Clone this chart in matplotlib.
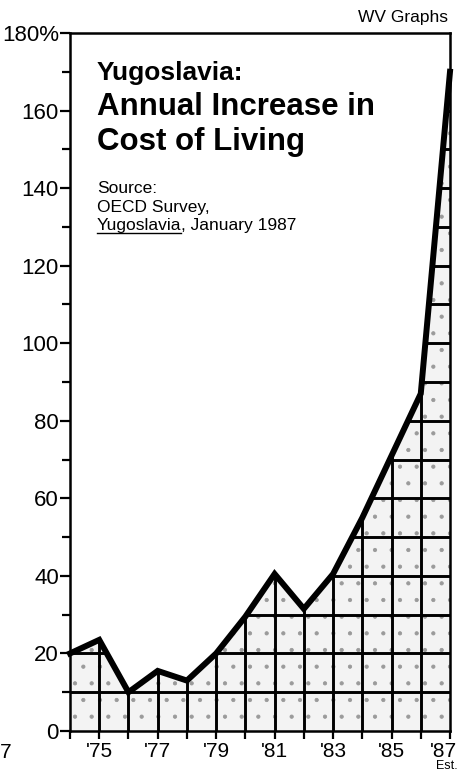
import matplotlib
matplotlib.use('Agg')
import matplotlib.pyplot as plt
import matplotlib.transforms as mtransforms

# values (annual % increase in cost of living)
years = [1974, 1975, 1976, 1977, 1978, 1979, 1980, 1981, 1982, 1983, 1984, 1985, 1986, 1987]
increase = [20, 23.5, 10, 15.5, 13, 20, 29.5, 40.5, 31.5, 40.5, 55, 71, 87, 170]
y_ticks = [0, 20, 40, 60, 80, 100, 120, 140, 160, 180]
y_labels = ['0', '20', '40', '60', '80', '100', '120', '140', '160', '180%']
x_ticks = [1975, 1977, 1979, 1981, 1983, 1985, 1987]
x_labels = ["'75", "'77", "'79", "'81", "'83", "'85", "'87"]

plt.rcParams['font.family'] = ['Liberation Sans', 'DejaVu Sans']
plt.rcParams['hatch.linewidth'] = 0.6

W, H = 460, 774
fig = plt.figure(figsize=(W / 100, H / 100), dpi=100)
ax = fig.add_axes([70 / W, 1 - 731 / H, 380 / W, 698 / H])

ax.set_xlim(1974, 1987)
ax.set_ylim(0, 180)

# stippled area under the curve
poly = ax.fill_between(years, 0, increase, facecolor='#f3f3f3', edgecolor='#9a9a9a',
                       hatch='.', linewidth=0, zorder=1)
clip = poly.get_paths()[0]

# heavy grid only inside the filled area
for yv in range(10, 180, 10):
    ln = ax.axhline(yv, color='black', lw=2.1, zorder=2)
    ln.set_clip_path(clip, ax.transData)
for xv in years[1:-1]:
    ln = ax.axvline(xv, color='black', lw=2.1, zorder=2)
    ln.set_clip_path(clip, ax.transData)

ax.plot(years, increase, color='black', lw=4.3, solid_joinstyle='miter', zorder=3, clip_on=False)

for s in ax.spines.values():
    s.set_linewidth(1.8)
    s.set_color('black')

ax.set_yticks(y_ticks)
ax.set_yticklabels(y_labels)
ax.set_yticks(range(10, 180, 20), minor=True)
ax.set_xticks(x_ticks)
ax.set_xticklabels(x_labels)
ax.set_xticks(years, minor=True)
ax.tick_params(axis='both', which='both', direction='out', width=1.6, color='black')
ax.tick_params(axis='y', which='major', length=7, labelsize=16, pad=1)
ax.tick_params(axis='y', which='minor', length=6)
ax.tick_params(axis='x', which='major', length=6, labelsize=15, pad=2)
ax.tick_params(axis='x', which='minor', length=6)

# keep the last year label inside the figure, as in the original
last = ax.get_xticklabels()[-1]
last.set_transform(last.get_transform() + mtransforms.ScaledTranslation(-7 / 100, 0, fig.dpi_scale_trans))

# texts
fig.text(448 / W, 1 - 22 / H, 'WV Graphs', ha='right', va='baseline', fontsize=12.5)
fig.text(97 / W, 1 - 80 / H, 'Yugoslavia:', ha='left', va='baseline', fontsize=19,
         fontweight='bold')
fig.text(97 / W, 1 - 115 / H, 'Annual Increase in', ha='left', va='baseline', fontsize=22.5,
         fontweight='bold')
fig.text(97 / W, 1 - 150 / H, 'Cost of Living', ha='left', va='baseline', fontsize=22.5,
         fontweight='bold')
fig.text(97 / W, 1 - 193 / H, 'Source:', ha='left', va='baseline', fontsize=12.5)
fig.text(97 / W, 1 - 212 / H, 'OECD Survey,', ha='left', va='baseline', fontsize=12.5)
t_yu = fig.text(97 / W, 1 - 230 / H, 'Yugoslavia', ha='left', va='baseline', fontsize=12.5)
fig.canvas.draw()
bb = t_yu.get_window_extent()
x0, x1 = bb.x0 / W, bb.x1 / W
fig.text(x1, 1 - 230 / H, ', January 1987', ha='left', va='baseline', fontsize=12.5)
fig.add_artist(plt.Line2D([x0, x1], [1 - 233 / H, 1 - 233 / H], color='black', lw=1.0))

fig.text(458 / W, 1 - 772 / H, 'Est.', ha='right', va='bottom', fontsize=9)
fig.text(0, 1 - 758 / H, '7', ha='left', va='baseline', fontsize=15)

fig.savefig('out.png', dpi=100)
